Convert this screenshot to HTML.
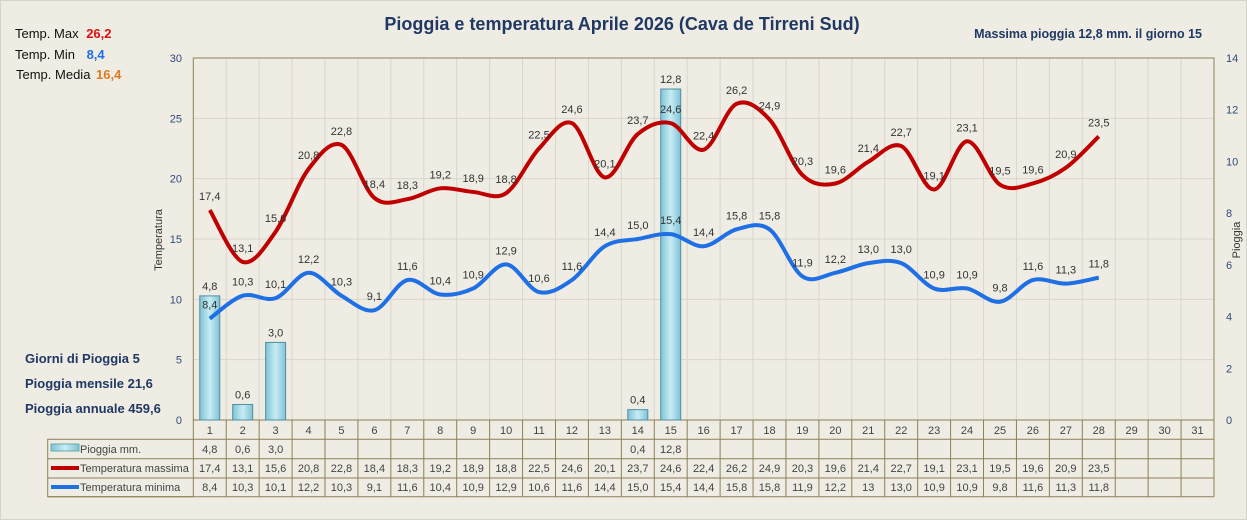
<!DOCTYPE html>
<html><head><meta charset="utf-8"><style>
body{margin:0;background:#efece3;}
svg{display:block;font-family:"Liberation Sans",sans-serif;}
</style></head><body>
<svg id="s" width="1247" height="520" xmlns="http://www.w3.org/2000/svg"></svg>
<script>
const s=document.getElementById('s');
let h='';
const L=193.3,R=1214,T=58,B=420,cw=(R-L)/31;
const cx=d=>L+cw*(d-0.5);
const yt=v=>B-(v/30)*(B-T);
const yr=v=>B-(v/14)*(B-T);
const rain={1:4.8,2:0.6,3:3.0,14:0.4,15:12.8};
const tmax=[17.4,13.1,15.6,20.8,22.8,18.4,18.3,19.2,18.9,18.8,22.5,24.6,20.1,23.7,24.6,22.4,26.2,24.9,20.3,19.6,21.4,22.7,19.1,23.1,19.5,19.6,20.9,23.5];
const tmin=[8.4,10.3,10.1,12.2,10.3,9.1,11.6,10.4,10.9,12.9,10.6,11.6,14.4,15.0,15.4,14.4,15.8,15.8,11.9,12.2,13.0,13.0,10.9,10.9,9.8,11.6,11.3,11.8];
const f=v=>v.toFixed(1).replace('.',',');
h+=`<rect x="0.5" y="0.5" width="1246" height="519" fill="#efece3" stroke="#d6d3ca"/>`;
h+=`<defs><linearGradient id="g" x1="0" x2="1"><stop offset="0" stop-color="#7fc3d6"/><stop offset="0.5" stop-color="#c8ecf4"/><stop offset="1" stop-color="#7fc3d6"/></linearGradient></defs>`;
// grid
for(let i=1;i<31;i++){let x=L+cw*i;h+=`<line x1="${x}" y1="${T}" x2="${x}" y2="${B}" stroke="#d9d6cd"/>`;}
for(let v=5;v<30;v+=5){h+=`<line x1="${L}" y1="${yt(v)}" x2="${R}" y2="${yt(v)}" stroke="#d9d6cd"/>`;}
h+=`<rect x="${L}" y="${T}" width="${R-L}" height="${B-T}" fill="none" stroke="#8c8154"/>`;
for(let v=0;v<=30;v+=5)h+=`<text x="182" y="${yt(v)+4}" font-size="11" fill="#2f4a7a" text-anchor="end">${v}</text>`;
for(let v=0;v<=14;v+=2)h+=`<text x="1226" y="${yr(v)+4}" font-size="11" fill="#2f4a7a">${v}</text>`;
// bars
for(const d in rain){const x=cx(+d),y=yr(rain[d]);h+=`<rect x="${x-10}" y="${y}" width="20" height="${B-y}" fill="url(#g)" stroke="#4f8fa3"/>`;h+=`<text x="${x}" y="${y-6}" font-size="11" fill="#333" text-anchor="middle">${f(rain[d])}</text>`;}
function path(arr){const p=arr.map((v,i)=>[cx(i+1),yt(v)]);let d=`M${p[0][0]},${p[0][1]}`;for(let i=0;i<p.length-1;i++){const p0=p[i-1]||p[i],p1=p[i],p2=p[i+1],p3=p[i+2]||p2;const t=6;d+=` C${p1[0]+(p2[0]-p0[0])/t},${p1[1]+(p2[1]-p0[1])/t} ${p2[0]-(p3[0]-p1[0])/t},${p2[1]-(p3[1]-p1[1])/t} ${p2[0]},${p2[1]}`;}return d;}
h+=`<path d="${path(tmax)}" fill="none" stroke="#c00000" stroke-width="4"/>`;
h+=`<path d="${path(tmin)}" fill="none" stroke="#1f6fe5" stroke-width="4"/>`;
tmax.forEach((v,i)=>h+=`<text x="${cx(i+1)}" y="${yt(v)-10}" font-size="11" fill="#333" text-anchor="middle">${f(v)}</text>`);
tmin.forEach((v,i)=>h+=`<text x="${cx(i+1)}" y="${yt(v)-10}" font-size="11" fill="#333" text-anchor="middle">${f(v)}</text>`);
// table
const rows=[420,439.3,458.7,478,496.7];
h+=`<line x1="${L}" y1="${B}" x2="${L}" y2="439.3" stroke="#8c8154"/>`;
for(let i=1;i<=31;i++){h+=`<line x1="${L+cw*i}" y1="${B}" x2="${L+cw*i}" y2="496.7" stroke="#8c8154"/>`;h+=`<text x="${cx(i)}" y="434" font-size="11" fill="#444" text-anchor="middle">${i}</text>`;}
h+=`<line x1="${L}" y1="439.3" x2="${R}" y2="439.3" stroke="#8c8154"/>`;
for(let r=2;r<5;r++)h+=`<line x1="47.7" y1="${rows[r]}" x2="${R}" y2="${rows[r]}" stroke="#8c8154"/>`;
h+=`<rect x="47.7" y="439.3" width="${L-47.7}" height="${496.7-439.3}" fill="none" stroke="#8c8154"/>`;
h+=`<rect x="51" y="444" width="28" height="7" fill="url(#g)" stroke="#6aa"/><text x="80" y="453" font-size="11" fill="#444">Pioggia mm.</text>`;
h+=`<line x1="51" y1="468" x2="79" y2="468" stroke="#c00000" stroke-width="4"/><text x="80" y="472" font-size="11" fill="#444">Temperatura massima</text>`;
h+=`<line x1="51" y1="487" x2="79" y2="487" stroke="#1f6fe5" stroke-width="4"/><text x="80" y="491" font-size="11" fill="#444">Temperatura minima</text>`;
for(const d in rain)h+=`<text x="${cx(+d)}" y="453" font-size="11" fill="#444" text-anchor="middle">${f(rain[d])}</text>`;
tmax.forEach((v,i)=>h+=`<text x="${cx(i+1)}" y="472" font-size="11" fill="#444" text-anchor="middle">${f(v)}</text>`);
tmin.forEach((v,i)=>h+=`<text x="${cx(i+1)}" y="491" font-size="11" fill="#444" text-anchor="middle">${i==20?'13':f(v)}</text>`);
// texts
h+=`<text x="622" y="30" font-size="18" font-weight="bold" fill="#1f3864" text-anchor="middle">Pioggia e temperatura Aprile 2026 (Cava de Tirreni Sud)</text>`;
h+=`<text x="1202" y="38" font-size="12.5" font-weight="bold" fill="#1f3864" text-anchor="end">Massima pioggia  12,8 mm. il giorno 15</text>`;
h+=`<text x="15" y="38" font-size="13" fill="#111">Temp. Max <tspan dx="4" fill="#e01010" font-weight="bold">26,2</tspan></text>`;
h+=`<text x="15" y="59" font-size="13" fill="#111">Temp. Min <tspan dx="8" fill="#1f6fe5" font-weight="bold">8,4</tspan></text>`;
h+=`<text x="16" y="79" font-size="13" fill="#111">Temp. Media <tspan dx="2" fill="#e07a20" font-weight="bold">16,4</tspan></text>`;
h+=`<text x="25" y="363" font-size="13" font-weight="bold" fill="#1f3864">Giorni di Pioggia  5</text>`;
h+=`<text x="25" y="388" font-size="13" font-weight="bold" fill="#1f3864">Pioggia mensile  21,6</text>`;
h+=`<text x="25" y="413" font-size="13" font-weight="bold" fill="#1f3864">Pioggia annuale  459,6</text>`;
h+=`<text transform="translate(162,240) rotate(-90)" font-size="11" fill="#333" text-anchor="middle">Temperatura</text>`;
h+=`<text transform="translate(1240,240) rotate(-90)" font-size="11" fill="#333" text-anchor="middle">Pioggia</text>`;
s.innerHTML=h;
</script>
</body></html>
